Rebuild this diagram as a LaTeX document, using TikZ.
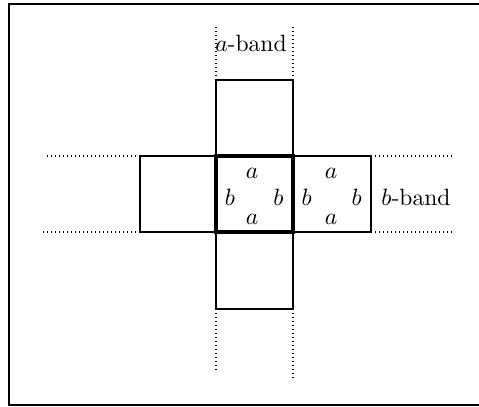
\documentclass[tikz,border=0pt]{standalone}
\begin{document}
\begin{tikzpicture}[x=0.424pt,y=-0.424pt,
  cell/.style={draw,line width=0.85pt},
  centercell/.style={draw,line width=1.7pt},
  dots/.style={line width=0.45pt,dash pattern=on 0.45pt off 1.25pt},
  lbl/.style={anchor=base,inner sep=0pt}]
\useasboundingbox (0,0) rectangle (479,407);
\clip (0,0) rectangle (479,407);
\draw[line width=0.85pt] (9,4.5) rectangle (495,405);
% cells
\draw[cell] (140,156) rectangle (216,232);
\draw[cell] (293,156) rectangle (371,232);
\draw[cell] (216,80) rectangle (293,156);
\draw[cell] (216,232) rectangle (293,309);
\draw[centercell] (216,156) rectangle (293,232);
% dotted band lines
\coordinate (tl) at (216,80); \coordinate (tr) at (293,80);
\coordinate (bl) at (216,309); \coordinate (br) at (293,309);
\coordinate (lt) at (140,156); \coordinate (lb) at (140,232);
\coordinate (rt) at (371,156); \coordinate (rb) at (371,232);
\draw[dots] (tl) -- (216,27);
\draw[dots] (tr) -- (293,27);
\draw[dots] (bl) -- (216,370);
\draw[dots] (br) -- (293,378);
\draw[dots] (lt) -- (46,156);
\draw[dots] (lb) -- (42,232);
\draw[dots] (rt) -- (453,156);
\draw[dots] (rb) -- (453,232);
% labels
\node[lbl] (aband) at (251,51.5) {$a$-band};
\node[lbl] (bband) at (416,205.5) {$b$-band};
\node[lbl] (ca1) at (252,179) {$a$};
\node[lbl] (cb1) at (230,205.5) {$b$};
\node[lbl] (cb2) at (278.5,205.5) {$b$};
\node[lbl] (ca2) at (252,225) {$a$};
\node[lbl] (ra1) at (331,179) {$a$};
\node[lbl] (rb1) at (306.7,205.5) {$b$};
\node[lbl] (rb2) at (356.7,205.5) {$b$};
\node[lbl] (ra2) at (331,225) {$a$};
\end{tikzpicture}
\end{document}
